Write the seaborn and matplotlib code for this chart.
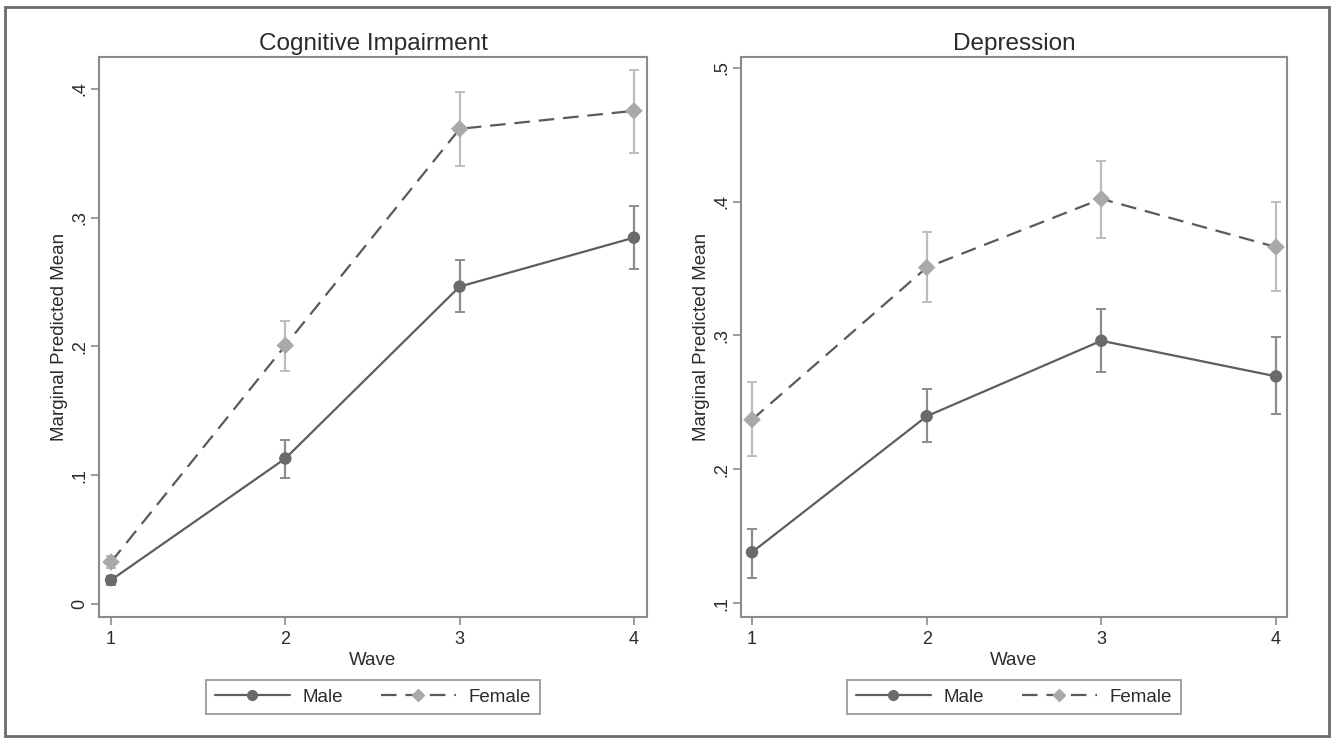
import matplotlib
matplotlib.use("Agg")
import matplotlib.pyplot as plt
import numpy as np
import pandas as pd
import seaborn as sns
from matplotlib.lines import Line2D
from matplotlib.patches import Rectangle

# values
waves = [1, 2, 3, 4]

cog_male = [0.0186, 0.113, 0.2465, 0.2845]
cog_male_lo = [0.015, 0.098, 0.227, 0.2605]
cog_male_hi = [0.022, 0.127, 0.267, 0.309]
cog_female = [0.0326, 0.2008, 0.369, 0.383]
cog_female_lo = [0.028, 0.181, 0.340, 0.350]
cog_female_hi = [0.037, 0.220, 0.398, 0.415]

dep_male = [0.138, 0.2396, 0.296, 0.2694]
dep_male_lo = [0.119, 0.220, 0.273, 0.241]
dep_male_hi = [0.155, 0.260, 0.320, 0.2985]
dep_female = [0.237, 0.3507, 0.402, 0.366]
dep_female_lo = [0.210, 0.325, 0.373, 0.333]
dep_female_hi = [0.265, 0.377, 0.4306, 0.400]

cog_yticks = [0, 0.1, 0.2, 0.3, 0.4]
cog_yticklabels = ["0", ".1", ".2", ".3", ".4"]
dep_yticks = [0.1, 0.2, 0.3, 0.4, 0.5]
dep_yticklabels = [".1", ".2", ".3", ".4", ".5"]

MALE_LINE = "#5e5e5e"
MALE_MARK = "#6a6a6a"
MALE_CI = "#8c8c8c"
FEMALE_LINE = "#5a5a5a"
FEMALE_MARK = "#a9a9a9"
FEMALE_CI = "#bdbdbd"
FRAME = "#8a8a8a"
TEXT = "#2b2b2b"


def make_frame(male, male_lo, male_hi, female, female_lo, female_hi):
    rows = []
    for sex, m, lo, hi in [("Male", male, male_lo, male_hi),
                           ("Female", female, female_lo, female_hi)]:
        for w, v, l, h in zip(waves, m, lo, hi):
            rows.append({"Wave": w, "Sex": sex, "mean": v, "lo": l, "hi": h})
    return pd.DataFrame(rows)


def draw_panel(ax, df, title, yticks, yticklabels, ylim, xlim):
    for sex, ci_col in [("Male", MALE_CI), ("Female", FEMALE_CI)]:
        sub = df[df["Sex"] == sex]
        ax.errorbar(sub["Wave"], sub["mean"],
                    yerr=[sub["mean"] - sub["lo"], sub["hi"] - sub["mean"]],
                    fmt="none", ecolor=ci_col, elinewidth=1.6, capsize=3.8,
                    capthick=1.4, zorder=2)
    sns.lineplot(data=df, x="Wave", y="mean", hue="Sex", style="Sex",
                 palette={"Male": MALE_LINE, "Female": FEMALE_LINE},
                 dashes={"Male": "", "Female": (7, 4)},
                 linewidth=1.6, legend=False, ax=ax, zorder=3)
    sns.scatterplot(data=df, x="Wave", y="mean", hue="Sex", style="Sex",
                    palette={"Male": MALE_MARK, "Female": FEMALE_MARK},
                    markers={"Male": "o", "Female": "D"},
                    s=80, edgecolor="none", legend=False, ax=ax, zorder=4)

    ax.set_xlim(*xlim)
    ax.set_ylim(*ylim)
    ax.set_xticks(waves)
    ax.set_xticklabels([str(w) for w in waves])
    ax.set_yticks(yticks)
    ax.set_yticklabels(yticklabels, rotation=90, va="center")
    ax.set_title(title, fontsize=17.5, color=TEXT, pad=5)
    ax.tick_params(axis="both", direction="out", length=5.5, width=1.2,
                   color=FRAME, labelsize=13, labelcolor=TEXT,
                   bottom=True, left=True)
    ax.tick_params(axis="x", pad=4.5)
    ax.tick_params(axis="y", pad=2.2)
    ax.set_xlabel("Wave", fontsize=13.5, color=TEXT, labelpad=3)
    ax.set_ylabel("Marginal Predicted Mean", fontsize=13.5, color=TEXT, labelpad=2.5)
    for sp in ax.spines.values():
        sp.set_visible(True)
        sp.set_color(FRAME)
        sp.set_linewidth(1.5)

    handles = [
        Line2D([0], [0], color=MALE_LINE, linewidth=1.6, marker="o",
               markersize=7, markerfacecolor=MALE_MARK, markeredgecolor=MALE_MARK),
        Line2D([0], [0], color=FEMALE_LINE, linewidth=1.6, linestyle=(0, (7, 4)),
               marker="D", markersize=6.5, markerfacecolor=FEMALE_MARK,
               markeredgecolor=FEMALE_MARK),
    ]
    leg = ax.legend(handles, ["Male", "Female"], loc="upper center",
                    bbox_to_anchor=(0.5, -0.113), ncol=2, fontsize=13.5,
                    frameon=True, fancybox=False, edgecolor=FRAME,
                    handlelength=4.0, handletextpad=0.7, columnspacing=2.0,
                    borderpad=0.45, borderaxespad=0)
    leg.get_frame().set_linewidth(1.4)
    for t in leg.get_texts():
        t.set_color(TEXT)


def main():
    sns.set_style("white")
    plt.rcParams["font.family"] = ["Liberation Sans", "DejaVu Sans"]

    W, H = 1339, 738
    fig = plt.figure(figsize=(W / 100, H / 100), dpi=100)

    ax1 = fig.add_axes([99 / W, (H - 617) / H, 548 / W, 560 / H])
    ax2 = fig.add_axes([741 / W, (H - 617) / H, 546 / W, 560 / H])

    cog = make_frame(cog_male, cog_male_lo, cog_male_hi,
                     cog_female, cog_female_lo, cog_female_hi)
    dep = make_frame(dep_male, dep_male_lo, dep_male_hi,
                     dep_female, dep_female_lo, dep_female_hi)

    draw_panel(ax1, cog, "Cognitive Impairment", cog_yticks, cog_yticklabels,
               (-0.0101, 0.4248), (0.931, 4.075))
    draw_panel(ax2, dep, "Depression", dep_yticks, dep_yticklabels,
               (0.0896, 0.508), (0.937, 4.063))

    # outer frame around the whole graphic
    fig.patches.append(Rectangle((5 / W, 2 / H), 1324 / W, 729 / H,
                                 transform=fig.transFigure, fill=False,
                                 edgecolor="#6a6a6a", linewidth=2.0))

    fig.savefig("out.png", dpi=100)
    plt.close(fig)


if __name__ == "__main__":
    main()
